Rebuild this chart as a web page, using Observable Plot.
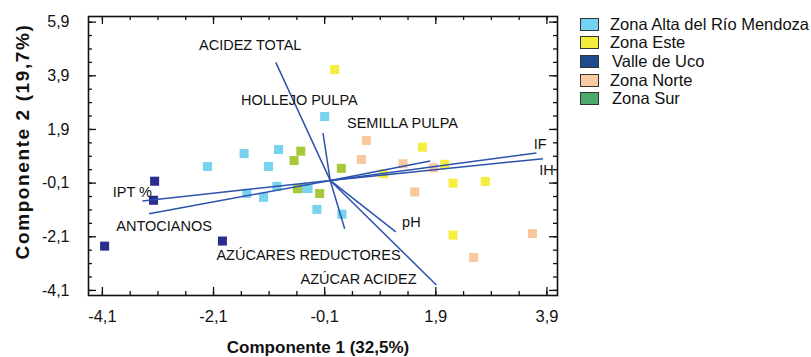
<!DOCTYPE html>
<html>
<head>
<meta charset="utf-8">
<script src="https://cdn.jsdelivr.net/npm/d3@7"></script>
<script src="https://cdn.jsdelivr.net/npm/@observablehq/plot@0.6"></script>
<style>
  body { margin: 0; background: #fff; }
  #wrap { position: relative; width: 811px; height: 357px; font-family: "Liberation Sans", Arial, sans-serif; }
  #legend { position: absolute; left: 580px; top: 15px; }
  .row { display: flex; align-items: center; height: 18.6px; white-space: nowrap; }
  .sw { width: 19px; height: 13px; border: 1.5px solid #333; box-sizing: border-box; margin-right: 11px; }
  .lb { font-size: 16.5px; color: #111; }
</style>
</head>
<body>
<div id="wrap"><div id="legend"></div></div>
<script>
// ---- data ----
const zonas = ["Zona Alta del Río Mendoza", "Zona Este", "Valle de Uco", "Zona Norte", "Zona Sur"];
const legendColors = ["#72d2ef", "#f4ec3c", "#1f4b8c", "#f8cba2", "#4caa6c"];
const pointColors = ["#78d3ef", "#f5ee3e", "#2a2d8e", "#f8c99e", "#a8c83c"];

const altaX = [-0.1, -2.21, -1.55, -0.93, -1.11, -0.96, -1.5, -1.2, -0.48, -0.4, -0.24, 0.21];
const altaY = [2.38, 0.52, 1.0, 1.15, 0.52, -0.22, -0.48, -0.63, -0.3, -0.3, -1.08, -1.26];
const esteX = [0.08, 1.66, 2.06, 0.96, 2.21, 2.79, 2.21];
const esteY = [4.13, 1.24, 0.6, 0.25, -0.1, -0.04, -2.04];
const ucoX = [-3.16, -3.18, -4.06, -1.94];
const ucoY = [-0.03, -0.74, -2.45, -2.26];
const norteX = [0.65, 0.56, 1.31, 1.86, 1.52, 3.64, 2.58];
const norteY = [1.49, 0.78, 0.62, 0.47, -0.43, -1.98, -2.87];
const surX = [-0.53, -0.65, -0.59, -0.19, 0.2];
const surY = [1.09, 0.74, -0.31, -0.49, 0.45];

const variables = ["ACIDEZ TOTAL", "HOLLEJO PULPA", "SEMILLA PULPA", "IF", "IH", "IPT %", "ANTOCIANOS", "pH", "AZÚCARES REDUCTORES", "AZÚCAR ACIDEZ"];
const loadX = [-0.98, -0.13, 1.8, 3.71, 3.83, -3.38, -3.26, 1.18, 0.26, 1.91];
const loadY = [4.4, 1.76, 0.72, 1.02, 0.81, -0.77, -1.24, -1.92, -1.8, -3.9];
const labelX = [-1.44, -0.555, 1.3, 3.78, 3.89, -3.56, -2.99, 1.46, -0.39, 0.51];
const labelY = [5.02, 2.97, 2.11, 1.36, 0.37, -0.43, -1.71, -1.55, -2.79, -3.69];

const xTicks = [-4.1, -2.1, -0.1, 1.9, 3.9];
const yTicks = [-4.1, -2.1, -0.1, 1.9, 3.9, 5.9];
const xTitle = "Componente 1 (32,5%)";
const yTitle = "Componente 2 (19,7%)";

// ---- build tables ----
const groups = [[altaX, altaY], [esteX, esteY], [ucoX, ucoY], [norteX, norteY], [surX, surY]];
const points = groups.flatMap(([xs, ys], i) => xs.map((x, j) => ({zona: zonas[i], x, y: ys[j]})));
const vectors = variables.map((v, i) => ({v, x: loadX[i], y: loadY[i], lx: labelX[i], ly: labelY[i]}));
const xMinor = d3.range(-4.1, 3.95, 0.5);
const yMinor = d3.range(-4.1, 5.95, 0.5);
const fmt = d => d.toFixed(1).replace(".", ",");

const W = 811, H = 357, mL = 88, mR = 254, mT = 16, mB = 62;
const fw = W - mL - mR, fh = H - mT - mB;
const maj = 8, mnr = 4;

const chart = Plot.plot({
  width: W, height: H,
  marginLeft: mL, marginRight: mR, marginTop: mT, marginBottom: mB,
  style: {fontFamily: "'Liberation Sans', Arial, sans-serif", color: "#111", background: "#fff"},
  x: {domain: [-4.35, 4.09]},
  y: {domain: [-4.29, 6.11]},
  color: {domain: zonas, range: pointColors},
  marks: [
    Plot.dot(points, {x: "x", y: "y", fill: "zona", symbol: "square", r: 5.1}),
    Plot.link(vectors, {x1: 0, y1: 0, x2: "x", y2: "y", stroke: "#2b52ad", strokeWidth: 1.5}),
    Plot.text(vectors, {x: "lx", y: "ly", text: "v", fontSize: 14.5, fill: "#111", textAnchor: "middle"}),
    // inward ticks
    Plot.ruleX(xTicks, {stroke: "#111", strokeWidth: 1.3, insetTop: fh - maj}),
    Plot.ruleX(xTicks, {stroke: "#111", strokeWidth: 1.3, insetBottom: fh - maj}),
    Plot.ruleX(xMinor, {stroke: "#111", strokeWidth: 1.3, insetTop: fh - mnr}),
    Plot.ruleX(xMinor, {stroke: "#111", strokeWidth: 1.3, insetBottom: fh - mnr}),
    Plot.ruleY(yTicks, {stroke: "#111", strokeWidth: 1.3, insetRight: fw - maj}),
    Plot.ruleY(yTicks, {stroke: "#111", strokeWidth: 1.3, insetLeft: fw - maj}),
    Plot.ruleY(yMinor, {stroke: "#111", strokeWidth: 1.3, insetRight: fw - mnr}),
    Plot.ruleY(yMinor, {stroke: "#111", strokeWidth: 1.3, insetLeft: fw - mnr}),
    Plot.frame({stroke: "#111", strokeWidth: 1.6}),
    Plot.axisX(xTicks, {tickSize: 0, tickPadding: 15, tickFormat: fmt, fontSize: 16.5, label: null}),
    Plot.axisY(yTicks, {tickSize: 0, tickPadding: 19, tickFormat: fmt, fontSize: 16, label: null}),
    Plot.text([xTitle], {frameAnchor: "bottom", dy: 57, dx: -5, fontSize: 17, fontWeight: "bold", fill: "#111"}),
    Plot.text([yTitle], {frameAnchor: "left", textAnchor: "middle", rotate: -90, dx: -66, dy: -14.5, fontSize: 19, fontWeight: "bold", fill: "#111"})
  ]
});

// widen the y title like the reference
d3.select(chart).selectAll("text").filter(function() { return this.textContent === yTitle; })
  .style("letter-spacing", "1.6px");

const wrap = document.getElementById("wrap");
wrap.insertBefore(chart, wrap.firstChild);

const legend = d3.select("#legend");
zonas.forEach((z, i) => {
  const row = legend.append("div").attr("class", "row");
  row.append("div").attr("class", "sw").style("background", legendColors[i]);
  row.append("span").attr("class", "lb").style("margin-left", (i === 2 || i === 4) ? "2px" : "0px").text(z);
});
</script>
</body>
</html>
